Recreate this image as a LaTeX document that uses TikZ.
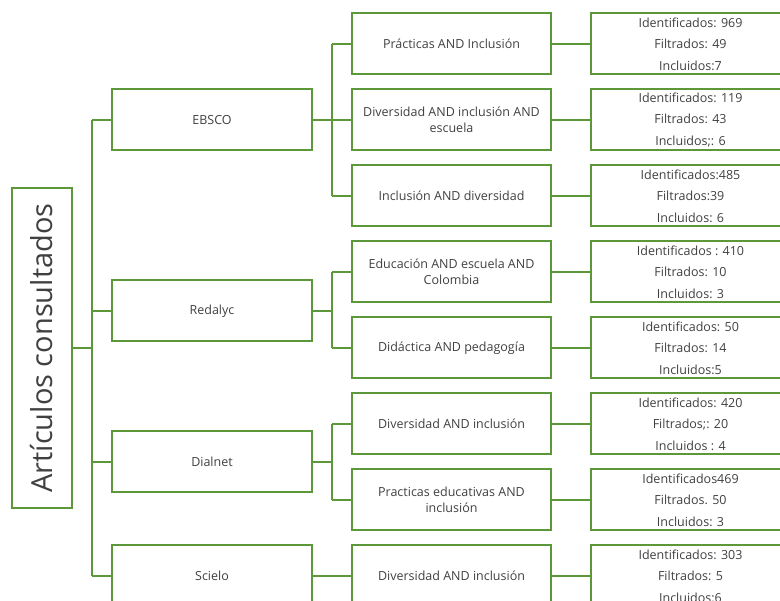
\documentclass[tikz,border=0pt]{standalone}
\usepackage{fontspec}
\setmainfont{Open Sans}
\definecolor{gr}{RGB}{92,152,58}
\definecolor{tx}{RGB}{64,64,64}
\begin{document}
\begin{tikzpicture}[x=1pt,y=-1pt,
  box/.style={draw=gr, line width=2pt, inner sep=0pt, minimum width=199pt, minimum height=61pt,
    align=center, text=tx, font=\fontsize{12.5}{15.7}\selectfont},
  res/.style={box, font=\fontsize{12.5}{21.5}\selectfont},
  src/.style={box, minimum width=200pt},
  link/.style={draw=gr, line width=2pt}]
\useasboundingbox (0,0) rectangle (780,601);
\clip (0,0) rectangle (780,601);

% root
\node[box, rotate=90, minimum width=320pt, minimum height=60pt,
  font=\fontsize{29}{34}\selectfont] (root) at (42,348) {Artículos consultados};

% sources
\node[src] (ebsco)   at (212,120) {EBSCO};
\node[src] (redalyc) at (212,311) {Redalyc};
\node[src] (dialnet) at (212,462) {Dialnet};
\node[src] (scielo)  at (212,576) {Scielo};

% queries
\node[box] (a1) at (451.5,44)  {Prácticas AND Inclusión};
\node[box] (a2) at (451.5,120) {Diversidad AND inclusión AND\\escuela};
\node[box] (a3) at (451.5,196) {Inclusión AND diversidad};
\node[box] (b1) at (451.5,272) {Educación AND escuela AND\\Colombia};
\node[box] (b2) at (451.5,348) {Didáctica AND pedagogía};
\node[box] (c1) at (451.5,424) {Diversidad AND inclusión};
\node[box] (c2) at (451.5,500) {Practicas educativas AND\\inclusión};
\node[box] (d1) at (451.5,576) {Diversidad AND inclusión};

% results
\node[res] (ra1) at (690.5,44)  {Identificados: 969\\Filtrados: 49\\Incluidos:7};
\node[res] (ra2) at (690.5,120) {Identificados: 119\\Filtrados: 43\\Incluidos;: 6};
\node[res] (ra3) at (690.5,196) {Identificados:485\\Filtrados:39\\Incluidos: 6};
\node[res] (rb1) at (690.5,272) {Identificados : 410\\Filtrados: 10\\Incluidos: 3};
\node[res] (rb2) at (690.5,348) {Identificados: 50\\Filtrados: 14\\Incluidos:5};
\node[res] (rc1) at (690.5,424) {Identificados: 420\\Filtrados;: 20\\Incluidos : 4};
\node[res] (rc2) at (690.5,500) {Identificados469\\Filtrados. 50\\Incluidos: 3};
\node[res] (rd1) at (690.5,576) {Identificados: 303\\Filtrados: 5\\Incluidos:6};

% trunk 1
\coordinate (t1) at (92,0);
\draw[link] (root.south) -- (root.south -| t1);
\draw[link] (ebsco.west -| t1) -- (scielo.west -| t1);
\foreach \n in {ebsco,redalyc,dialnet,scielo}
  \draw[link] (\n.west -| t1) -- (\n.west);

% trunk 2
\coordinate (t2) at (332,0);
\draw[link] (ebsco.east) -- (ebsco.east -| t2);
\draw[link] (a1.west -| t2) -- (a3.west -| t2);
\foreach \n in {a1,a2,a3} \draw[link] (\n.west -| t2) -- (\n.west);

\draw[link] (redalyc.east) -- (redalyc.east -| t2);
\draw[link] (b1.west -| t2) -- (b2.west -| t2);
\foreach \n in {b1,b2} \draw[link] (\n.west -| t2) -- (\n.west);

\draw[link] (dialnet.east) -- (dialnet.east -| t2);
\draw[link] (c1.west -| t2) -- (c2.west -| t2);
\foreach \n in {c1,c2} \draw[link] (\n.west -| t2) -- (\n.west);

\draw[link] (scielo.east) -- (d1.west);

% query to results
\foreach \q in {a1,a2,a3,b1,b2,c1,c2,d1}
  \draw[link] (\q.east) -- (r\q.west);
\end{tikzpicture}
\end{document}
